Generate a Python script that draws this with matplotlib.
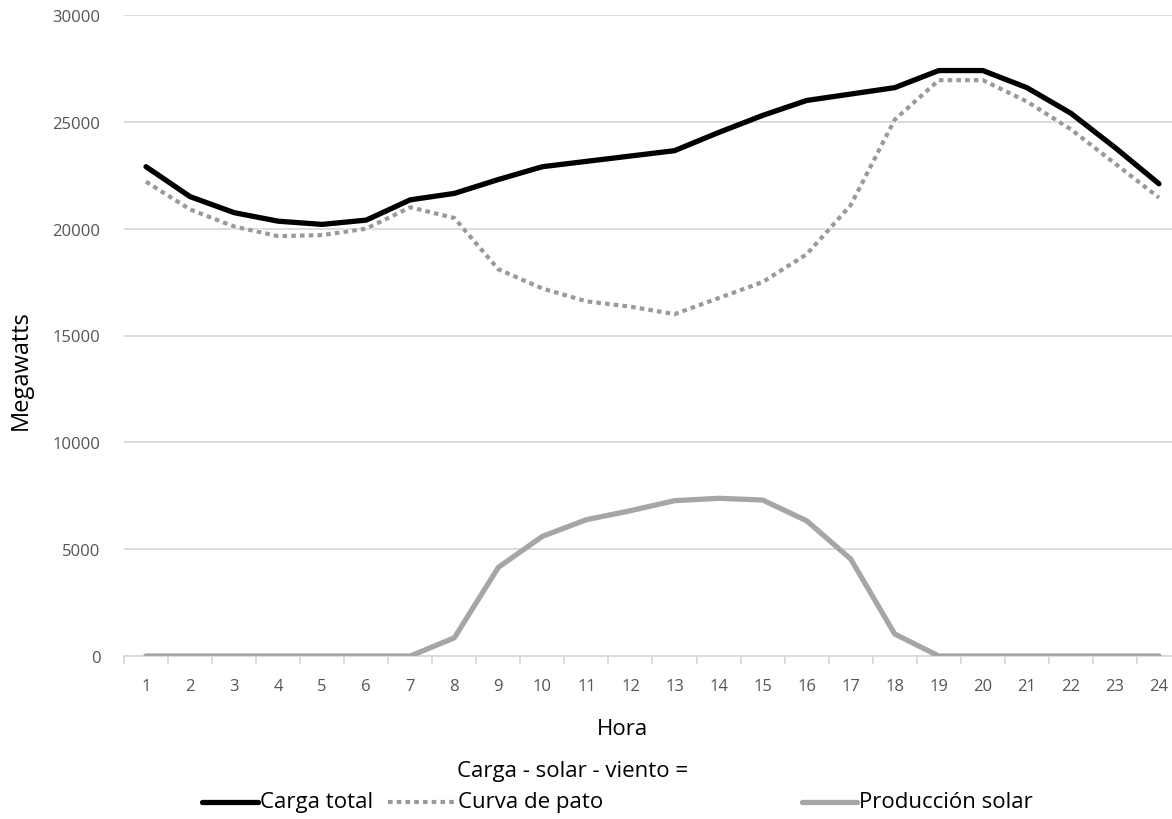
import matplotlib
matplotlib.use("Agg")
import matplotlib.pyplot as plt
from matplotlib.lines import Line2D
import matplotlib.patheffects as pe

plt.rcParams['font.family'] = ['Open Sans', 'DejaVu Sans']

hours = list(range(1, 25))
hour_labels = [str(h) for h in hours]
carga_total = [22900, 21500, 20750, 20350, 20200, 20400, 21350, 21650, 22300, 22900,
               23150, 23400, 23650, 24500, 25300, 26000, 26300, 26600, 27400, 27400,
               26600, 25400, 23800, 22100]
curva_pato = [22200, 20900, 20100, 19650, 19700, 20000, 21000, 20500, 18100, 17200,
              16600, 16350, 16000, 16750, 17500, 18800, 21100, 25100, 26950, 26950,
              25950, 24650, 23050, 21450]
prod_solar = [0, 0, 0, 0, 0, 0, 0, 850, 4150, 5600, 6380, 6800, 7270, 7380, 7300,
              6330, 4540, 1030, 0, 0, 0, 0, 0, 0]
yticks = [0, 5000, 10000, 15000, 20000, 25000, 30000]

W, H = 1172, 820
fig = plt.figure(figsize=(W / 100, H / 100), dpi=100)
ax = fig.add_axes([124 / W, (H - 657) / H, 1057 / W, 641 / H])

ax.plot(hours, carga_total, color='black', lw=3.8, solid_joinstyle='round',
        solid_capstyle='round', zorder=3)
ax.plot(hours, curva_pato, color='#9a9a9a', lw=3.0, dashes=(1.1, 1.0),
        dash_capstyle='butt', zorder=4,
        path_effects=[pe.Stroke(linewidth=4.6, foreground='white'), pe.Normal()])
ax.plot(hours, prod_solar, color='#a6a6a6', lw=3.8, solid_joinstyle='round',
        solid_capstyle='round', zorder=5)

ax.set_xlim(0.5, 24.5)
ax.set_ylim(0, 30000)
ax.set_yticks(yticks)
ax.set_yticklabels([str(v) for v in yticks])
ax.set_xticks(hours)
ax.set_xticklabels(hour_labels)
ax.set_xticks([h + 0.5 for h in range(0, 25)], minor=True)

ax.grid(axis='y', color='#d9d9d9', lw=1.3, zorder=0)
ax.set_axisbelow(True)
for s in ['top', 'right', 'left']:
    ax.spines[s].set_visible(False)
ax.spines['bottom'].set_color('#d9d9d9')
ax.spines['bottom'].set_linewidth(1.3)

ax.tick_params(axis='y', length=0, pad=17, labelsize=12, labelcolor='#555555')
ax.tick_params(axis='x', which='major', length=0, pad=16, labelsize=12, labelcolor='#555555')
ax.tick_params(axis='x', which='minor', length=6, width=1.3, color='#d9d9d9')

ax.set_ylabel('Megawatts', fontsize=17)
ax.yaxis.set_label_coords(-0.086, 0.448)
ax.set_xlabel('Hora', fontsize=16)
ax.xaxis.set_label_coords(0.472, -0.097)

# legend drawn manually
def fx(px):
    return px / W

def fy(py):
    return (H - py) / H

ly = 803
fig.add_artist(Line2D([fx(202), fx(258)], [fy(ly), fy(ly)], color='black', lw=3.8,
                      solid_capstyle='round', transform=fig.transFigure))
fig.text(fx(260), fy(ly), 'Carga total', fontsize=16, va='center', ha='left')
fig.add_artist(Line2D([fx(388), fx(456)], [fy(ly), fy(ly)], color='#9a9a9a', lw=3.0,
                      dashes=(1.1, 1.0), dash_capstyle='butt', transform=fig.transFigure))
fig.text(fx(458), fy(ly), 'Curva de pato', fontsize=16, va='center', ha='left')
fig.text(fx(457), fy(772), 'Carga - solar - viento =', fontsize=16, va='center', ha='left')
fig.add_artist(Line2D([fx(802), fx(857)], [fy(ly), fy(ly)], color='#a6a6a6', lw=3.8,
                      solid_capstyle='round', transform=fig.transFigure))
fig.text(fx(859), fy(ly), 'Producción solar', fontsize=16, va='center', ha='left')

fig.savefig('out.png', dpi=100, facecolor='white')
